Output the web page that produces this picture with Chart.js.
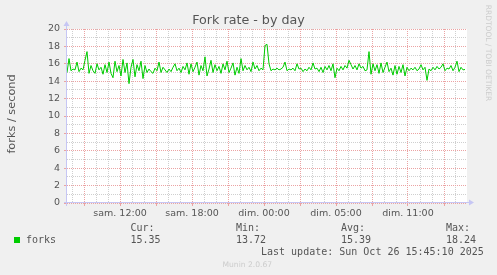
<!DOCTYPE html>
<html>
<head>
<meta charset="utf-8">
<title>Fork rate - by day</title>
<script src="https://cdn.jsdelivr.net/npm/chart.js@4.4.0/dist/chart.umd.min.js"></script>
<style>
  html, body { margin: 0; padding: 0; background: #f0f0f0; }
</style>
</head>
<body>
<canvas id="chartForks" width="497" height="275"></canvas>
<script>
// Munin "Fork rate - by day", one sample per 10 minutes

const forks = [
  15.0, 16.6, 15.2, 15.4, 15.3, 16.2, 15.1, 15.5, 15.3, 16.4,
  17.4, 14.9, 15.8, 15.2, 14.9, 16.0, 15.3, 15.6, 14.8, 15.9,
  15.0, 16.2, 14.9, 14.4, 16.3, 15.1, 15.8, 14.6, 16.5, 15.0,
  16.1, 13.72, 15.6, 16.5, 14.5, 15.9, 15.2, 16.3, 14.3, 15.8,
  15.0, 15.4, 15.1, 14.9, 15.5, 15.2, 16.2, 15.0, 15.6, 15.3,
  15.0, 15.4, 15.1, 15.6, 16.0, 15.2, 15.5, 15.0, 15.7, 15.3,
  16.1, 14.8, 16.0, 15.1, 15.6, 16.2, 14.7, 15.8, 15.2, 16.8,
  14.6, 15.4, 16.4, 15.0, 15.9, 15.2, 15.7, 14.9, 16.0, 15.3,
  16.3, 15.0, 15.5, 16.1, 14.7, 15.6, 14.9, 16.6, 15.2, 15.8,
  15.3, 15.6, 15.1, 16.2, 15.4, 15.8, 15.2, 15.5, 15.3, 18.1,
  18.24, 16.0, 15.2, 15.4, 15.3, 15.5, 15.3, 15.4, 15.6, 16.2,
  15.2, 15.4, 15.3, 15.5, 15.2, 16.0, 15.4, 15.5, 15.1, 15.4,
  15.2, 15.6, 15.3, 16.1, 15.4, 15.5, 15.1, 15.6, 15.0, 15.7,
  15.3, 15.8, 15.2, 16.0, 14.4, 15.5, 15.2, 15.7, 15.3, 15.8,
  15.5, 16.4, 15.9, 15.4, 15.8, 15.3, 16.0, 15.5, 15.7, 15.2,
  15.3, 17.4, 14.8, 16.0, 15.2, 15.9, 14.9, 16.1, 15.0, 15.6,
  16.2, 15.1, 15.5, 14.7, 15.8, 14.8, 15.7, 15.0, 15.9, 14.6,
  15.6, 15.2, 15.5, 15.3, 15.6, 15.2, 15.4, 15.9, 15.3, 15.6,
  14.1, 15.4, 15.2, 15.6, 15.3, 15.7, 15.4, 15.6, 16.0, 15.2,
  15.5, 15.4, 15.8, 15.2, 15.6, 16.3, 15.1, 15.6, 15.3, 15.35
];

// time axis in hours from sam. 00:00 (graph spans 400 px * 5 min)
const startHour = 7 + 35 / 60;
const endHour = startHour + 2000 / 60;
const stepHours = 10 / 60;

const xTickHours = [12, 18, 24, 30, 36];
const xTickLabels = ['sam. 12:00', 'sam. 18:00', 'dim. 00:00', 'dim. 05:00', 'dim. 11:00'];
const yMin = 0, yMax = 20;

const legendHeads = ['Cur:', 'Min:', 'Avg:', 'Max:'];
const legendValues = ['15.35', '13.72', '15.39', '18.24'];

const SANS = "'DejaVu Sans', sans-serif";
const MONO = "'DejaVu Sans Mono', monospace";
const majorColor = '#eba3a3';
const minorColor = '#cfcfcf';
const axisColor = '#c6c6f4';
const textColor = '#555555';
const lineColor = '#00cc00';

const points = forks.map((v, i) => ({ x: startHour + i * stepHours, y: v }));

// background, axes with arrows and all the rrdtool texts
const muninFrame = {
  id: 'muninFrame',
  beforeDraw(chart) {
    const { ctx, chartArea: a } = chart;
    ctx.save();
    ctx.fillStyle = '#f0f0f0';
    ctx.fillRect(0, 0, chart.width, chart.height);
    ctx.fillStyle = '#ffffff';
    ctx.fillRect(a.left, a.top, a.right - a.left, a.bottom - a.top);
    ctx.restore();
  },
  afterDraw(chart) {
    const { ctx, chartArea: a } = chart;
    ctx.save();

    // axes
    ctx.strokeStyle = axisColor;
    ctx.fillStyle = axisColor;
    ctx.lineWidth = 1;
    ctx.beginPath();
    ctx.moveTo(a.left - 0.5, a.bottom + 3);
    ctx.lineTo(a.left - 0.5, a.top - 4);
    ctx.moveTo(a.left - 3, a.bottom - 0.5);
    ctx.lineTo(a.right + 3, a.bottom - 0.5);
    ctx.stroke();
    ctx.beginPath();
    ctx.moveTo(a.left - 3.5, a.top - 3);
    ctx.lineTo(a.left + 2.5, a.top - 3);
    ctx.lineTo(a.left - 0.5, a.top - 8);
    ctx.closePath();
    ctx.fill();
    ctx.beginPath();
    ctx.moveTo(a.right + 2, a.bottom - 3.5);
    ctx.lineTo(a.right + 2, a.bottom + 2.5);
    ctx.lineTo(a.right + 7, a.bottom - 0.5);
    ctx.closePath();
    ctx.fill();

    // title
    ctx.fillStyle = textColor;
    ctx.font = '12.7px ' + SANS;
    ctx.textAlign = 'center';
    ctx.textBaseline = 'alphabetic';
    ctx.fillText('Fork rate - by day', 248.5, 24);

    // vertical label
    ctx.save();
    ctx.translate(15, 114);
    ctx.rotate(-Math.PI / 2);
    ctx.font = '11.3px ' + SANS;
    ctx.fillText('forks / second', 0, 0);
    ctx.restore();

    // rrdtool watermark
    ctx.save();
    ctx.translate(485.5, 53);
    ctx.rotate(Math.PI / 2);
    ctx.fillStyle = '#cccccc';
    ctx.font = '7.5px ' + SANS;
    ctx.fillText('RRDTOOL / TOBI OETIKER', 0, 0);
    ctx.restore();

    // legend
    ctx.fillStyle = lineColor;
    ctx.fillRect(14, 237, 6, 6);
    ctx.fillStyle = textColor;
    ctx.font = '10px ' + MONO;
    ctx.textAlign = 'left';
    ctx.fillText('forks', 26, 242.5);
    const cols = [130.5, 236, 341, 446];
    legendHeads.forEach((h, i) => {
      ctx.fillText(h, cols[i], 230.5);
      ctx.fillText(legendValues[i], cols[i], 242.5);
    });
    ctx.fillText('Last update: Sun Oct 26 15:45:10 2025', 261, 255);

    ctx.fillStyle = '#cccccc';
    ctx.font = '7.6px ' + SANS;
    ctx.fillText('Munin 2.0.67', 222.5, 266.5);
    ctx.restore();
  }
};

new Chart(document.getElementById('chartForks'), {
  type: 'line',
  data: {
    datasets: [{
      label: 'forks',
      data: points,
      borderColor: lineColor,
      borderWidth: 1,
      pointRadius: 0,
      tension: 0,
      fill: false
    }]
  },
  options: {
    responsive: false,
    animation: false,
    layout: { padding: { left: 0, top: 29, right: 30, bottom: 0 } },
    plugins: { legend: { display: false }, tooltip: { enabled: false }, title: { display: false } },
    scales: {
      x: {
        type: 'linear',
        min: startHour,
        max: endHour,
        afterFit(s) { s.height = 72; },
        afterBuildTicks(s) {
          const t = [];
          for (let h = Math.ceil(startHour); h <= endHour; h++) t.push({ value: h });
          s.ticks = t;
        },
        grid: {
          color: c => (c.tick && c.tick.value % 3 === 0) ? majorColor : minorColor,
          tickColor: c => (c.tick && c.tick.value % 3 === 0) ? majorColor : 'rgba(0,0,0,0)',
          tickLength: 3,
          lineWidth: 1
        },
        border: { display: false, dash: [1, 1] },
        ticks: {
          autoSkip: false,
          maxRotation: 0,
          padding: 2,
          color: textColor,
          font: { family: SANS, size: 9.5 },
          callback: v => {
            const i = xTickHours.indexOf(v);
            return i >= 0 ? xTickLabels[i] : '';
          }
        }
      },
      y: {
        min: yMin,
        max: yMax,
        afterFit(s) { s.width = 67; },
        afterBuildTicks(s) {
          const t = [];
          for (let v = yMin; v <= yMax; v++) t.push({ value: v });
          s.ticks = t;
        },
        grid: {
          color: c => (c.tick && c.tick.value % 2 === 0) ? majorColor : minorColor,
          tickColor: c => (c.tick && c.tick.value % 2 === 0) ? majorColor : 'rgba(0,0,0,0)',
          tickLength: 3,
          lineWidth: 1
        },
        border: { display: false, dash: [1, 1] },
        ticks: {
          autoSkip: false,
          padding: 4,
          color: textColor,
          font: { family: SANS, size: 9.5 },
          callback: v => (v % 2 === 0 ? String(v) : '')
        }
      }
    }
  },
  plugins: [muninFrame]
});
</script>
</body>
</html>
